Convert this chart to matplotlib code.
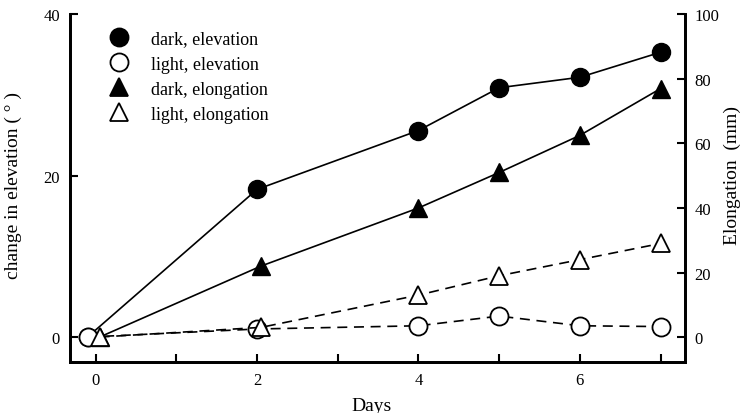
import matplotlib.pyplot as plt
from matplotlib.ticker import MultipleLocator

plt.rcParams['font.family'] = ['Liberation Serif', 'DejaVu Serif']

# days of measurement (day-0 points are nudged apart so they don't overlap)
days_circ = [-0.1, 2, 4, 5, 6, 7]
days_tri = [0.05, 2.05, 4, 5, 6, 7]

# change in elevation (deg), left axis
dark_elev = [0, 18.3, 25.6, 30.9, 32.2, 35.3]
light_elev = [0, 1.0, 1.4, 2.6, 1.4, 1.3]

# elongation (mm), right axis
dark_elong = [0, 22, 40, 51, 62.5, 77]
light_elong = [0, 3, 13, 19, 24, 29]

fig = plt.figure(figsize=(7.42, 4.14), dpi=100)
ax = fig.add_axes([0.094, 0.123, 0.829, 0.84])
ax2 = ax.twinx()

ms = 13
l1, = ax.plot(days_circ, dark_elev, '-', color='black', lw=1.2,
              marker='o', ms=ms, mfc='black', mec='black', zorder=3)
l2, = ax.plot(days_circ, light_elev, '--', color='black', lw=1.2,
              marker='o', ms=ms, mfc='white', mec='black', mew=1.3,
              dashes=(6, 4), zorder=3)
l3, = ax2.plot(days_tri, dark_elong, '-', color='black', lw=1.2,
               marker='^', ms=ms, mfc='black', mec='black', zorder=3)
l4, = ax2.plot(days_tri, light_elong, '--', color='black', lw=1.2,
               marker='^', ms=ms, mfc='white', mec='black', mew=1.3,
               dashes=(6, 4), zorder=3)

ax.set_xlim(-0.32, 7.3)
ax.set_ylim(-3.1, 40)
ax2.set_ylim(-7.75, 100)

ax.xaxis.set_major_locator(MultipleLocator(2))
ax.xaxis.set_minor_locator(MultipleLocator(1))
ax.yaxis.set_major_locator(MultipleLocator(20))
ax2.yaxis.set_major_locator(MultipleLocator(20))

for a in (ax, ax2):
    a.spines['top'].set_visible(False)
    a.tick_params(direction='in', which='both', width=1.5, labelsize=12)
    a.tick_params(which='major', length=6, pad=7)
    a.tick_params(which='minor', length=6)
    for s in a.spines.values():
        s.set_linewidth(2)
ax.spines['left'].set_bounds(-3.1, 40)
ax2.spines['right'].set_bounds(-7.75, 100)

ax.set_xlabel('Days', fontsize=14)
ax.set_ylabel('change in elevation ( ° )', fontsize=14)
ax2.set_ylabel('Elongation  (mm)', fontsize=14)
ax.xaxis.set_label_coords(0.49, -0.10)
ax.yaxis.set_label_coords(-0.078, 0.51)
ax2.yaxis.set_label_coords(1.063, 0.54)

leg_handles = []
for h in (l1, l2, l3, l4):
    p, = ax.plot([], [], linestyle='none', marker=h.get_marker(), ms=ms,
                 mfc=h.get_markerfacecolor(), mec='black', mew=1.3)
    leg_handles.append(p)
ax.legend(leg_handles,
          ['dark, elevation', 'light, elevation',
           'dark, elongation', 'light, elongation'],
          loc='upper left', bbox_to_anchor=(0.03, 0.99), frameon=False,
          fontsize=13, handletextpad=0.8, labelspacing=0.45,
          borderaxespad=0.3)

fig.savefig('out.png', dpi=100)
